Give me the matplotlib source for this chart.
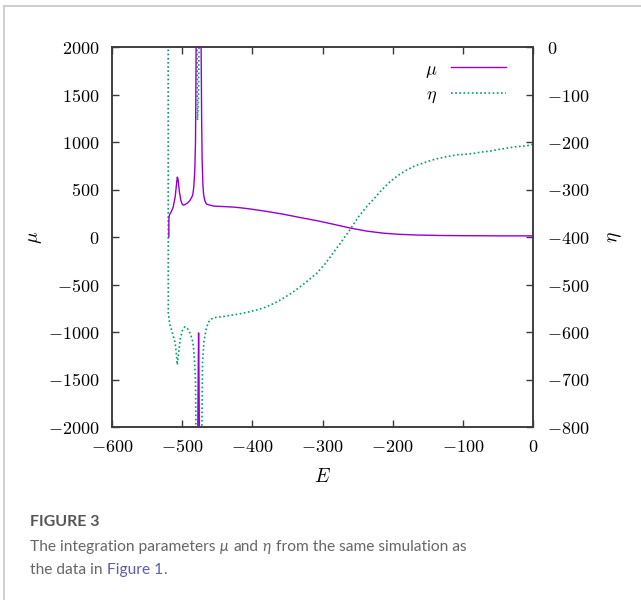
import numpy as np
import matplotlib
matplotlib.use("Agg")
import matplotlib.pyplot as plt
from matplotlib.ticker import FuncFormatter
from matplotlib.lines import Line2D

plt.rcParams['mathtext.fontset'] = 'cm'

nan = np.nan
# ---- data ----
E_mu = [-519.0, -518.9, -518, -516, -513, -510, -508, -507, -506, -504, -502, -500, -498,
        -495, -492, -489, -487, -485, -483.5, -482, -481, -480.6, -480.2, -479.9,
        -479.5, -478.3, -477.2, -476.6, -476.0, -475.0, -474.5,
        -473.6, -472.8, -472.2, -471.5, -470.5, -469.5, -468, -466, -465, -455, -440,
        -427, -415, -403, -380, -356, -332, -308, -285, -261, -237, -213, -190,
        -166, -133, -100, -50, 0]
mu = [0, 200, 235, 260, 310, 420, 560, 630, 615, 480, 390, 345, 335,
      345, 360, 385, 410, 440, 520, 700, 1000, 1400, 1900, 2600,
      nan, -2600, -1500, -1010, -1500, -2600, nan,
      2600, 1800, 1200, 800, 560, 450, 390, 355, 345, 325, 320,
      315, 306, 295, 270, 240, 205, 172, 135, 95, 62, 40, 28,
      21, 16, 14, 12, 12]

E_eta = [-520.0, -519.8, -517.5, -515, -512.5, -510, -508, -507, -505.5, -503, -500, -498,
         -496, -493.5, -491, -488, -485.5, -484, -482.5, -481, -480.2,
         -479.8, -479.3, -478.2, -476.8, -475.3, -474.8,
         -472.2, -471, -469, -466, -463, -460, -455.6, -440, -427, -415, -403, -390,
         -380, -368, -356, -344, -332, -320, -308, -296, -285, -273, -261, -249, -237,
         -227, -215, -204, -192, -180, -168, -156, -144, -133, -120, -109, -97, -85,
         -73, -61, -50, -37.5, -25, -9, 0]
eta = [100, -560, -585, -596, -610, -623, -650, -669, -650, -617, -598, -592,
       -589, -591, -596, -605, -617, -630, -660, -701, -850,
       nan, 100, -154, -110, 100, nan,
       -850, -666, -620, -596, -580, -575, -570, -567, -564, -561, -557, -552,
       -547, -539, -529, -518, -505, -491, -476, -456, -434, -410, -385, -358, -336,
       -320, -300, -284, -270, -259, -250, -244, -238, -234, -230, -227, -226, -224,
       -221, -219, -216, -213, -210, -208, -205]

mu_ticks = [-2000, -1500, -1000, -500, 0, 500, 1000, 1500, 2000]
eta_ticks = [-800, -700, -600, -500, -400, -300, -200, -100, 0]
E_ticks = [-600, -500, -400, -300, -200, -100, 0]

PURPLE = '#9400d3'
GREEN = '#009e73'
SPINE = '#3a3a3a'

W, H = 641, 600
fig = plt.figure(figsize=(W / 100, H / 100), dpi=100)

# card border (left and top)
fig.add_artist(Line2D([4 / W, 4 / W], [0, 1 - 6 / H], color='#cccccc', lw=1.3,
                      transform=fig.transFigure))
fig.add_artist(Line2D([4 / W, 1], [1 - 6 / H, 1 - 6 / H], color='#cccccc', lw=1.3,
                      transform=fig.transFigure))

ax = fig.add_axes([112 / W, 1 - 427 / H, (533 - 112) / W, (427 - 47) / H])
ax2 = ax.twinx()

ax.plot(E_mu, mu, color=PURPLE, lw=1.0, label=r'$\mu$', zorder=3)
ax2.plot(E_eta, eta, color=GREEN, lw=1.2, ls=(0, (1, 1.5)), label=r'$\eta$')

ax.set_xlim(-600, 0)
ax.set_ylim(-2000, 2000)
ax2.set_ylim(-800, 0)
ax.set_xticks(E_ticks)
ax.set_yticks(mu_ticks)
ax2.set_yticks(eta_ticks)

fmt = FuncFormatter(lambda v, p: r'$%d$' % int(round(v)))
for a in (ax, ax2):
    a.xaxis.set_major_formatter(fmt)
    a.yaxis.set_major_formatter(fmt)
    for s in a.spines.values():
        s.set_color(SPINE)
        s.set_linewidth(1.1)

ax.tick_params(axis='x', which='both', direction='in', top=True, bottom=True,
               length=5, width=1, color=SPINE, labelsize=13, pad=8)
ax.tick_params(axis='y', which='both', direction='in', left=True, right=False,
               length=5, width=1, color=SPINE, labelsize=13, pad=9)
ax2.tick_params(axis='y', which='both', direction='in', right=True, left=False,
                length=5, width=1, color=SPINE, labelsize=13, pad=10)

ax.set_zorder(ax2.get_zorder() + 1)
ax.patch.set_visible(False)

# axis labels
fig.text(35 / W, 1 - 237 / H, r'$\mu$', rotation=90, ha='center', va='center', fontsize=14)
fig.text(614 / W, 1 - 237 / H, r'$\eta$', rotation=90, ha='center', va='center', fontsize=14)
fig.text(322 / W, 1 - 477 / H, r'$E$', ha='center', va='center', fontsize=14)

# legend
h1, l1 = ax.get_legend_handles_labels()
h2, l2 = ax2.get_legend_handles_labels()
leg = ax.legend(h1 + h2, l1 + l2, loc='upper right', bbox_to_anchor=(0.965, 1.0),
                frameon=False, markerfirst=False, fontsize=13, handlelength=3.0,
                handletextpad=0.8, labelspacing=0.3, borderaxespad=0.3)

# caption
renderer = fig.canvas.get_renderer()
TXT = '#666666'
cap_font = ['Lato', 'Open Sans', 'DejaVu Sans']

fig.text(30 / W, 1 - 526 / H, 'FIGURE 3', fontsize=11.5, fontweight='bold',
         color='#555555', family=cap_font, va='baseline', ha='left')


def space_w(size, style='normal'):
    a = fig.text(0, 0, 'x x', fontsize=size, family=cap_font, style=style)
    b = fig.text(0, 0, 'xx', fontsize=size, family=cap_font, style=style)
    w = a.get_window_extent(renderer).width - b.get_window_extent(renderer).width
    a.remove()
    b.remove()
    return w


def seq(y_px, pieces, size=11.2):
    x = 30.0
    sw = space_w(size)
    for s, col, style in pieces:
        lead = len(s) - len(s.lstrip(' '))
        trail = len(s) - len(s.rstrip(' '))
        x += lead * sw
        core = s.strip(' ')
        if core:
            t = fig.text(x / W, 1 - y_px / H, core, fontsize=size, family=cap_font,
                         color=col, style=style, va='baseline', ha='left')
            x = t.get_window_extent(renderer).x1 + 0.5
        x += trail * sw


seq(551, [('The integration parameters ', TXT, 'normal'), ('μ', TXT, 'italic'),
          (' and ', TXT, 'normal'), ('η', TXT, 'italic'),
          (' from the same simulation as', TXT, 'normal')])
seq(574, [('the data in ', TXT, 'normal'), ('Figure 1', '#5b5bb0', 'normal'),
          ('.', TXT, 'normal')])

fig.savefig('out.png', dpi=100)
